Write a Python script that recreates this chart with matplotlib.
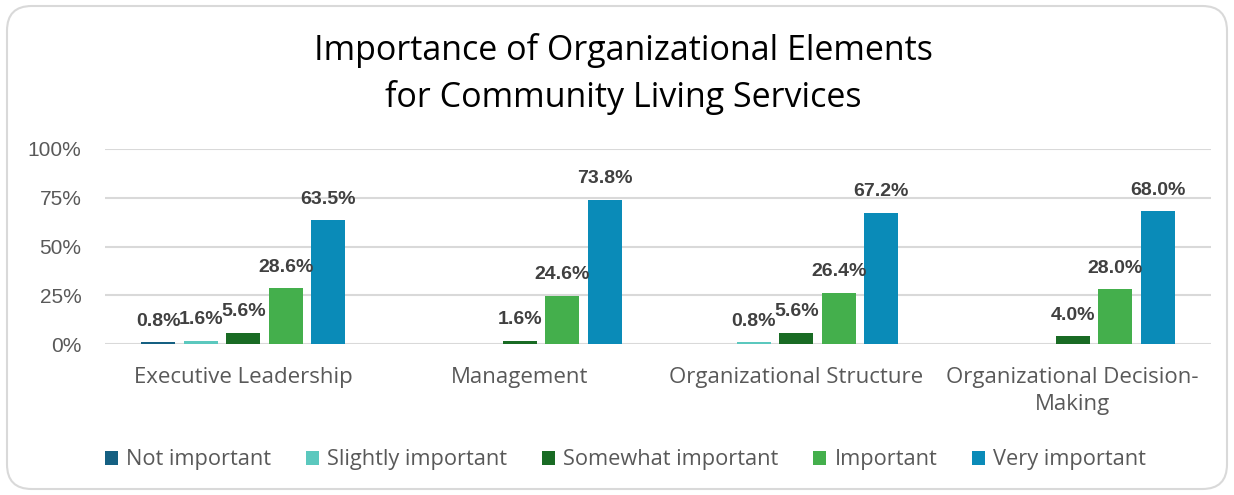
import numpy as np
import matplotlib
matplotlib.use("Agg")
import matplotlib.pyplot as plt
from matplotlib.patches import FancyBboxPatch
from matplotlib.ticker import FuncFormatter

categories = ["Executive Leadership", "Management", "Organizational Structure", "Organizational Decision-\nMaking"]
levels = ["Not important", "Slightly important", "Somewhat important", "Important", "Very important"]
values = {
    "Not important": [0.8, 0, 0, 0],
    "Slightly important": [1.6, 0, 0.8, 0],
    "Somewhat important": [5.6, 1.6, 5.6, 4.0],
    "Important": [28.6, 24.6, 26.4, 28.0],
    "Very important": [63.5, 73.8, 67.2, 68.0],
}
colors = ["#156082", "#5BC8BE", "#196B24", "#44AF4C", "#0A8BB8"]

plt.rcParams['font.family'] = ['Open Sans', 'DejaVu Sans']

fig = plt.figure(figsize=(12.34, 4.95), dpi=100)
border = FancyBboxPatch((7 / 1234, 6 / 495), 1220 / 1234, 483 / 495,
                        boxstyle="round,pad=0,rounding_size=0.02",
                        transform=fig.transFigure, facecolor="none",
                        edgecolor="#D9D9D9", linewidth=1.5, mutation_aspect=1234 / 495)
fig.patches.append(border)

ax = fig.add_axes([105 / 1234, 1 - 344 / 495, 1106 / 1234, 195 / 495])
ax.set_facecolor("none")

x = np.arange(len(categories))
step = 0.1537
width = 0.123
for i, lvl in enumerate(levels):
    vals = np.array(values[lvl])
    pos = x + (i - 2) * step
    ax.bar(pos, vals, width, color=colors[i], label=lvl, zorder=3)
    for p, v in zip(pos, vals):
        if v > 0:
            ax.text(p, v + 6.5, "%.1f%%" % v, ha="center", va="bottom",
                    fontsize=14, fontweight="bold", color="#404040",
                    family="Liberation Sans", zorder=4)

ax.set_xlim(-0.5, len(categories) - 0.5)
ax.set_ylim(0, 100)
ax.set_yticks([0, 25, 50, 75, 100])
ax.yaxis.set_major_formatter(FuncFormatter(lambda v, p: "%d%%" % v))
ax.grid(axis="y", color="#D9D9D9", linewidth=1.5, zorder=0)
for s in ax.spines.values():
    s.set_visible(False)
ax.tick_params(axis="both", length=0, labelcolor="#595959", labelsize=15)
ax.tick_params(axis="y", pad=17)
for t in ax.get_yticklabels():
    t.set_family("Liberation Sans")
ax.set_xticks(x)
ax.set_xticklabels(categories, fontsize=16, color="#595959", linespacing=1.35)
ax.tick_params(axis="x", pad=16.5)

fig.text(0.505, 0.851, "Importance of Organizational Elements\nfor Community Living Services",
         ha="center", va="center", fontsize=24.5, color="black", linespacing=1.45)

fig.legend(loc="center", bbox_to_anchor=(0.507, 1 - 460 / 495), ncol=5, frameon=False,
           fontsize=15.7, handlelength=0.6, handleheight=0.6, handletextpad=0.37,
           columnspacing=1.6, labelcolor="#595959")

plt.savefig("out.png", dpi=100)
